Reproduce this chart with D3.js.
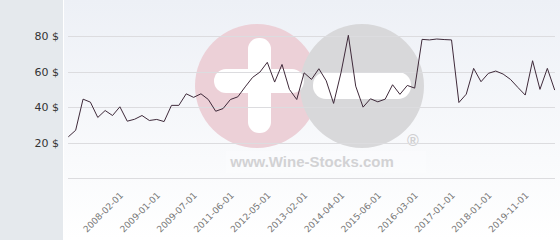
<!DOCTYPE html>
<html>
<head>
<meta charset="utf-8">
<script src="https://cdn.jsdelivr.net/npm/d3@7"></script>
<style>
  html, body { margin: 0; padding: 0; background: #fff; }
  svg { display: block; font-family: "DejaVu Sans", Verdana, sans-serif; }
</style>
</head>
<body>
<div id="chart"></div>
<script>
// monthly price points (USD)
const prices = [
  23.3, 27, 44.5, 42.8, 34.2, 38.1, 35.3, 40.2, 32.1, 33.2,
  35.3, 32.5, 33.1, 31.9, 41, 41, 47.5, 45.5, 47.5, 44.3,
  37.7, 39.2, 44.3, 45.8, 51.4, 56.7, 59.7, 65.2, 54.1, 64,
  50, 44.3, 59.3, 55.6, 61.6, 54.8, 42.1, 59.3, 80.4, 51.8,
  40, 44.7, 43, 44.5, 52.6, 47.2, 52.2, 50.7, 78.1, 77.8,
  78.3, 78, 77.8, 42.6, 47.3, 61.8, 54.3, 59, 60.3, 58.6,
  55.6, 51.1, 46.8, 66.1, 50, 61.8, 49.6
];
const tickIndex = [7, 12, 17, 22, 27, 32, 37, 42, 47, 52, 57, 62];
const tickLabels = [
  "2008-02-01", "2009-01-01", "2009-07-01", "2011-06-01", "2012-05-01", "2013-02-01",
  "2014-04-01", "2015-06-01", "2016-03-01", "2017-01-01", "2018-01-01", "2019-11-01"
];
const yTicks = [20, 40, 60, 80];

const W = 560, H = 240;
const svg = d3.select("#chart").append("svg")
  .attr("width", W)
  .attr("height", H);

const defs = svg.append("defs");
const grad = defs.append("linearGradient")
  .attr("id", "bg")
  .attr("x1", 0).attr("y1", 0).attr("x2", 0).attr("y2", 1);
grad.append("stop").attr("offset", "0%").attr("stop-color", "#edf0f6");
grad.append("stop").attr("offset", "100%").attr("stop-color", "#ffffff");

// left panel + plot background
svg.append("rect").attr("width", 63).attr("height", H).attr("fill", "#e5e9ed");
svg.append("rect").attr("x", 64).attr("width", W - 64).attr("height", H).attr("fill", "url(#bg)");

const x = d3.scalePoint()
  .domain(d3.range(prices.length))
  .range([68.3, 554.7]);

const y = d3.scaleLinear()
  .domain([0, 80])
  .range([178.3, 36]);

// watermark
const wm = svg.append("g");
wm.append("circle").attr("cx", 257).attr("cy", 86).attr("r", 62).attr("fill", "#ecd0d7");
wm.append("circle").attr("cx", 362).attr("cy", 86).attr("r", 62).attr("fill", "#d8d8da");
wm.append("rect").attr("x", 248).attr("y", 38).attr("width", 23).attr("height", 95)
  .attr("rx", 11).attr("fill", "#fff");
wm.append("rect").attr("x", 214).attr("y", 69).attr("width", 90).attr("height", 24)
  .attr("rx", 12).attr("fill", "#fff");
wm.append("rect").attr("x", 313).attr("y", 72).attr("width", 98).attr("height", 27)
  .attr("rx", 13).attr("fill", "#fff");
wm.append("rect").attr("x", 226).attr("y", 151).attr("width", 200).attr("height", 22)
  .attr("fill", "#fff").attr("opacity", 0.25);
wm.append("text")
  .attr("x", 312).attr("y", 167)
  .attr("text-anchor", "middle")
  .attr("font-family", "Liberation Sans, Arial, sans-serif")
  .attr("font-weight", "bold")
  .attr("font-size", 15)
  .attr("fill", "#d2d2d4")
  .text("www.Wine-Stocks.com");
wm.append("text")
  .attr("x", 413).attr("y", 146)
  .attr("text-anchor", "middle")
  .attr("font-family", "Liberation Sans, Arial, sans-serif")
  .attr("font-weight", "bold")
  .attr("font-size", 16)
  .attr("fill", "#d0d0d2")
  .text("®");

// grid
const grid = svg.append("g");
grid.selectAll("line")
  .data([0].concat(yTicks))
  .join("line")
  .attr("x1", 68).attr("x2", 555)
  .attr("y1", d => Math.round(y(d)) + 0.5)
  .attr("y2", d => Math.round(y(d)) + 0.5)
  .attr("stroke", "#dcdcdf")
  .attr("stroke-width", 1);

// y labels
svg.append("g").selectAll("text")
  .data(yTicks)
  .join("text")
  .attr("x", 59)
  .attr("y", d => y(d) + 4)
  .attr("text-anchor", "end")
  .attr("font-size", 11)
  .attr("fill", "#333")
  .text(d => d + " $");

// x labels
svg.append("g").selectAll("text")
  .data(tickIndex)
  .join("text")
  .attr("text-anchor", "end")
  .attr("font-size", 9)
  .attr("fill", "#777")
  .attr("transform", d => `translate(${x(d) + 4},${196}) rotate(-45)`)
  .text((d, i) => tickLabels[i]);

// price line
const line = d3.line()
  .x((d, i) => x(i))
  .y(d => y(d));

svg.append("path")
  .datum(prices)
  .attr("fill", "none")
  .attr("stroke", "#3f2a3a")
  .attr("stroke-width", 1)
  .attr("stroke-linejoin", "round")
  .attr("d", line);
</script>
</body>
</html>
